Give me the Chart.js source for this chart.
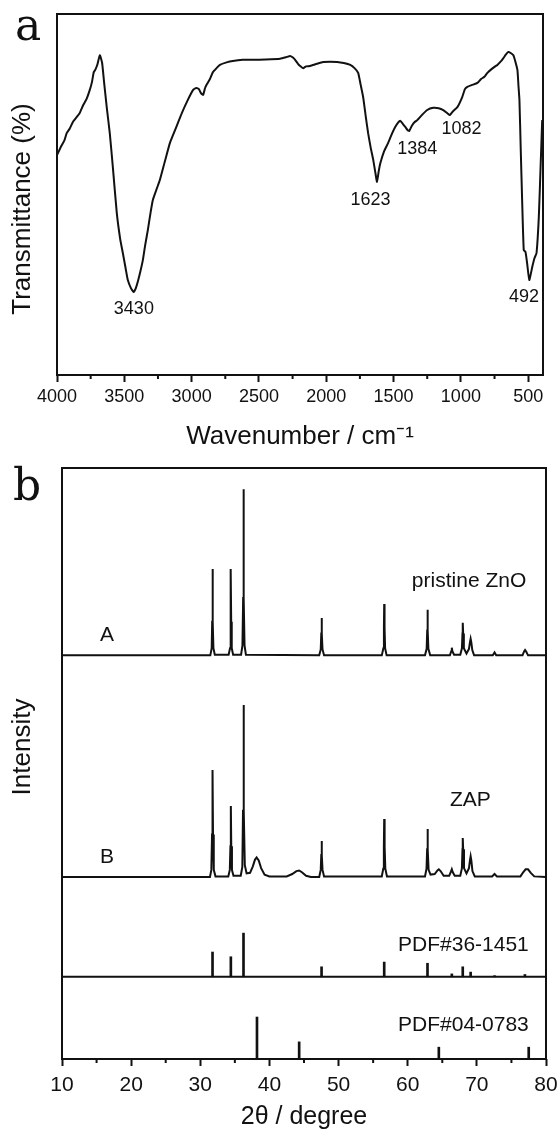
<!DOCTYPE html>
<html lang="en">
<head>
<meta charset="UTF-8" />
<title>FTIR and XRD</title>
<script src="https://cdn.jsdelivr.net/npm/chart.js"></script>
<style>
  body { margin: 0; background: #fff; }
  .fig { position: relative; width: 559px; height: 1132px; }
  canvas { position: absolute; left: 0; }
  #ftirChart { top: 0; }
  #xrdChart { top: 460px; }
</style>
</head>
<body>
<div class="fig">
  <canvas id="ftirChart" width="559" height="460"></canvas>
  <canvas id="xrdChart" width="559" height="672"></canvas>
</div>

<script>
// ---- panel a : FTIR ----
const ftirWavenumber = [4000, 3970, 3945, 3928, 3905, 3880, 3855, 3831, 3805, 3780, 3757, 3740, 3727, 3715, 3700, 3682, 3665, 3650, 3630, 3608,
  3585, 3556, 3530, 3511, 3490, 3474, 3450, 3430, 3415, 3400, 3380, 3362, 3345, 3325, 3305, 3288, 3260, 3236, 3200, 3161,
  3117, 3072, 3028, 2990, 2965, 2946, 2931, 2915, 2900, 2886, 2864, 2842, 2815, 2790, 2740, 2694, 2620, 2545, 2450, 2343,
  2300, 2268, 2250, 2231, 2210, 2194, 2172, 2150, 2120, 2070, 2023, 1970, 1919, 1870, 1822, 1790, 1763, 1745, 1726, 1708,
  1689, 1670, 1651, 1635, 1623, 1610, 1598, 1570, 1540, 1510, 1488, 1465, 1450, 1430, 1413, 1395, 1384, 1365, 1345, 1324,
  1290, 1250, 1205, 1165, 1131, 1100, 1082, 1060, 1026, 990, 970, 952, 920, 877, 850, 825, 803, 770, 745, 729,
  700, 684, 665, 647, 630, 610, 595, 580, 572, 565, 555, 545, 533, 520, 508, 492, 470, 453, 438, 421, 408, 396];
const ftirTransmittance = [60.9, 63.3, 65.0, 67.0, 68.3, 70.2, 71.4, 72.6, 74.8, 76.5, 78.9, 81.2, 83.9, 84.6, 86.0, 88.6, 86.5, 81.0, 74.0, 67.0,
  57.5, 44.9, 37.5, 33.8, 29.5, 26.3, 24.0, 23.0, 24.0, 25.8, 28.8, 31.9, 36.0, 40.2, 45.0, 48.5, 51.5, 54.0, 59.0, 64.3,
  68.4, 72.6, 76.2, 78.9, 79.5, 79.2, 78.1, 77.6, 79.5, 80.6, 82.0, 83.9, 85.0, 85.9, 86.6, 87.0, 87.3, 87.3, 87.4, 87.6,
  88.0, 88.4, 88.0, 87.3, 86.2, 85.6, 85.0, 85.5, 85.6, 86.2, 86.7, 86.8, 86.7, 86.4, 85.9, 85.0, 83.7, 80.5, 77.0, 72.0,
  67.0, 63.0, 59.6, 56.0, 53.5, 56.5, 58.7, 62.0, 64.3, 67.0, 68.7, 70.0, 70.4, 69.5, 68.7, 67.8, 67.6, 69.0, 70.0, 70.6,
  72.0, 73.4, 74.0, 73.9, 73.4, 72.5, 72.0, 73.0, 74.2, 77.0, 79.2, 79.8, 80.3, 80.9, 82.0, 82.6, 83.7, 84.8, 85.5, 85.9,
  87.0, 87.8, 88.8, 89.5, 89.2, 88.6, 86.8, 84.5, 80.0, 76.2, 62.0, 48.5, 34.6, 34.1, 31.0, 26.3, 29.9, 32.4, 33.8, 43.8, 57.6, 70.6];
const ftirTicks = [500, 1000, 1500, 2000, 2500, 3000, 3500, 4000];
const ftirMinorTicks = [750, 1250, 1750, 2250, 2750, 3250, 3750];
const ftirLabelText = ['3430', '1623', '1384', '1082', '492'];
const ftirLabelX = [3429, 1671, 1324, 996, 531];
const ftirLabelY = [18.4, 48.5, 62.5, 68.2, 21.5];

// ---- panel b : XRD ----
const xrdAngleA = [10, 31.45, 31.65, 31.72, 31.77, 31.82, 31.9, 32.1,
  34.1, 34.3, 34.37, 34.42, 34.47, 34.55, 34.75,
  35.9, 36.1, 36.2, 36.25, 36.3, 36.4, 36.6,
  47.2, 47.42, 47.5, 47.54, 47.6, 47.68, 47.9,
  56.25, 56.48, 56.56, 56.6, 56.65, 56.73, 56.95,
  62.5, 62.74, 62.82, 62.86, 62.91, 62.99, 63.25,
  66.1, 66.3, 66.38, 66.46, 66.7,
  67.6, 67.84, 67.92, 67.96, 68.02, 68.12, 68.5, 68.86, 69.0, 69.1, 69.2, 69.34, 69.6,
  72.3, 72.56, 72.8,
  76.6, 76.85, 76.97, 77.15, 77.4, 80];
const xrdIntensityA = [68.3, 68.3, 69.5, 74, 82.9, 74, 69.5, 68.4,
  68.4, 69.5, 74, 82.9, 74, 69.5, 68.4,
  68.4, 70, 78, 96.4, 78, 70, 68.4,
  68.3, 69.3, 72, 74.6, 72, 69.3, 68.3,
  68.3, 69.5, 73, 77.0, 73, 69.5, 68.3,
  68.3, 69.4, 72.5, 76.0, 72.5, 69.4, 68.3,
  68.3, 69.0, 69.6, 69.0, 68.4,
  68.4, 69.5, 72, 73.8, 72, 69.5, 68.6, 69.4, 70.5, 71.1, 70.5, 69.2, 68.3,
  68.3, 68.8, 68.3,
  68.3, 69.0, 69.2, 68.9, 68.3, 68.3];

const xrdAngleB = [10, 31.4, 31.6, 31.7, 31.77, 31.84, 31.95, 32.2,
  34.05, 34.27, 34.36, 34.42, 34.48, 34.58, 34.8,
  35.85, 36.08, 36.18, 36.25, 36.32, 36.44, 36.7,
  37.2, 37.6, 37.9, 38.15, 38.45, 38.8, 39.3, 40,
  42.5, 43.3, 43.9, 44.3, 44.7, 45.3, 46,
  47.2, 47.42, 47.5, 47.54, 47.6, 47.68, 47.9,
  56.25, 56.46, 56.55, 56.6, 56.66, 56.76, 57,
  62.5, 62.72, 62.81, 62.86, 62.92, 63.02, 63.3,
  63.9, 64.3, 64.5, 64.75, 65.2, 66.0, 66.25, 66.38, 66.52, 66.8,
  67.6, 67.84, 67.92, 67.96, 68.02, 68.14, 68.5, 68.86, 69.0, 69.1, 69.2, 69.36, 69.7,
  72.2, 72.56, 72.9,
  76.3, 76.7, 77.05, 77.4, 77.8, 78.3, 80];
const xrdIntensityB = [30.8, 30.8, 32, 38, 48.9, 38, 32, 30.9,
  30.9, 32, 36, 42.8, 36, 32, 31.0,
  31.0, 32.5, 42, 59.9, 42, 32.8, 31.4,
  31.5, 32.6, 33.7, 34.1, 33.6, 32.3, 31.2, 30.9,
  30.9, 31.3, 31.8, 31.9, 31.6, 31.0, 30.8,
  30.8, 32, 34.5, 36.9, 34.5, 32, 30.9,
  30.9, 32.2, 36, 40.6, 36, 32.2, 30.9,
  30.9, 32.2, 35.5, 38.9, 35.5, 32, 31.2,
  31.3, 31.9, 32.1, 31.8, 31.0, 31.0, 31.7, 32.1, 31.6, 31.0,
  31.0, 32.3, 35.5, 37.4, 35.5, 32.3, 31.4, 32.3, 33.6, 34.3, 33.6, 31.8, 30.9,
  30.9, 31.3, 30.9,
  30.9, 31.6, 32.1, 32.1, 31.5, 30.9, 30.8];

const pdf36Base = 13.9;
const pdf36Angle = [31.77, 34.42, 36.25, 47.54, 56.6, 62.86, 66.38, 67.96, 69.1, 72.56, 76.95];
const pdf36Top = [18.1, 17.3, 21.3, 15.6, 16.4, 16.2, 14.4, 15.6, 14.7, 14.1, 14.3];
const pdf04Base = 0;
const pdf04Angle = [38.2, 44.3, 64.5, 77.5];
const pdf04Top = [7.1, 2.9, 2.0, 2.0];

const xrdMinorTicks = [15, 25, 35, 45, 55, 65, 75];
const xrdLabelText = ['A', 'pristine ZnO', 'B', 'ZAP', 'PDF#36-1451', 'PDF#04-0783'];
const xrdLabelX = [16.5, 60.6, 16.5, 66.1, 58.6, 58.6];
const xrdLabelY = [71.7, 80.9, 34.2, 43.8, 19.3, 5.75];
const xrdLabelAlign = ['center', 'left', 'center', 'left', 'left', 'left'];

Chart.defaults.font.family = '"Liberation Sans", Arial, sans-serif';
Chart.defaults.color = '#111';

const INK = '#111';

// frame, minor ticks, annotations, y title and panel letter
function extras(cfg) {
  return {
    id: 'extras',
    afterDraw(chart) {
      const ctx = chart.ctx;
      const a = chart.chartArea;
      const x = chart.scales.x, y = chart.scales.y;
      ctx.save();
      ctx.strokeStyle = INK;
      ctx.lineWidth = 2;
      ctx.strokeRect(a.left, a.top, a.right - a.left, a.bottom - a.top);
      ctx.beginPath();
      cfg.minor.forEach(v => {
        const px = x.getPixelForValue(v);
        ctx.moveTo(px, a.bottom);
        ctx.lineTo(px, a.bottom + 4);
      });
      ctx.stroke();
      ctx.fillStyle = INK;
      ctx.font = cfg.font;
      ctx.textBaseline = 'middle';
      cfg.text.forEach((t, i) => {
        ctx.textAlign = cfg.align ? cfg.align[i] : 'center';
        ctx.fillText(t, x.getPixelForValue(cfg.lx[i]), y.getPixelForValue(cfg.ly[i]));
      });
      // y axis title
      ctx.save();
      ctx.translate(23, cfg.yTitleAt);
      ctx.rotate(-Math.PI / 2);
      ctx.font = '26px "Liberation Sans", Arial, sans-serif';
      ctx.textAlign = 'center';
      ctx.fillText(cfg.yTitle, 0, 0);
      ctx.restore();
      ctx.font = '44px "DejaVu Serif", serif';
      ctx.textAlign = 'left';
      ctx.textBaseline = 'alphabetic';
      ctx.fillText(cfg.letter, cfg.letterX, 40);
      ctx.restore();
    }
  };
}

new Chart(document.getElementById('ftirChart'), {
  type: 'line',
  data: {
    datasets: [{
      data: ftirWavenumber.map((w, i) => ({ x: w, y: ftirTransmittance[i] })),
      borderColor: INK,
      borderWidth: 2,
      pointRadius: 0,
      tension: 0.15
    }]
  },
  options: {
    responsive: false,
    animation: false,
    layout: { padding: { top: 14, right: 16, left: 0, bottom: 0 } },
    plugins: { legend: { display: false }, tooltip: { enabled: false } },
    scales: {
      x: {
        type: 'linear',
        reverse: true,
        offset: false,
        min: 390,
        max: 4000,
        afterBuildTicks: s => { s.ticks = ftirTicks.map(v => ({ value: v })); },
        afterFit: s => { s.height = 85; s.paddingLeft = 0; s.paddingRight = 0; },
        ticks: { font: { size: 18 }, padding: 4, maxRotation: 0, callback: v => String(v) },
        grid: { offset: false, drawOnChartArea: false, drawTicks: true, tickLength: 7, tickWidth: 2, tickColor: INK },
        border: { display: false },
        title: { display: true, text: 'Wavenumber / cm\u207B\u00B9', font: { size: 26 }, padding: { top: 0, bottom: 8 } }
      },
      y: {
        min: 0,
        max: 100,
        afterFit: s => { s.width = 57; },
        ticks: { display: false },
        grid: { display: false },
        border: { display: false }
      }
    }
  },
  plugins: [extras({
    minor: ftirMinorTicks, text: ftirLabelText, lx: ftirLabelX, ly: ftirLabelY,
    font: '18px "Liberation Sans", Arial, sans-serif',
    yTitle: 'Transmittance (%)', yTitleAt: 209, letter: 'a', letterX: 15
  })]
});

new Chart(document.getElementById('xrdChart'), {
  type: 'line',
  data: {
    datasets: [
      {
        data: xrdAngleA.map((t, i) => ({ x: t, y: xrdIntensityA[i] })),
        borderColor: INK, borderWidth: 2, pointRadius: 0, tension: 0
      },
      {
        data: xrdAngleB.map((t, i) => ({ x: t, y: xrdIntensityB[i] })),
        borderColor: INK, borderWidth: 2, pointRadius: 0, tension: 0
      },
      {
        data: [{ x: 10, y: pdf36Base }, { x: 80, y: pdf36Base }],
        borderColor: INK, borderWidth: 2, pointRadius: 0
      },
      {
        type: 'bar',
        data: pdf36Angle.map((t, i) => ({ x: t, y: [pdf36Base, pdf36Top[i]] })),
        backgroundColor: INK, barThickness: 2, grouped: false
      },
      {
        type: 'bar',
        data: pdf04Angle.map((t, i) => ({ x: t, y: [pdf04Base, pdf04Top[i]] })),
        backgroundColor: INK, barThickness: 2, grouped: false
      }
    ]
  },
  options: {
    responsive: false,
    animation: false,
    layout: { padding: { top: 8, right: 13, left: 0, bottom: 0 } },
    plugins: { legend: { display: false }, tooltip: { enabled: false } },
    scales: {
      x: {
        type: 'linear',
        offset: false,
        min: 10,
        max: 80,
        afterFit: s => { s.height = 73; s.paddingLeft = 0; s.paddingRight = 0; },
        ticks: { stepSize: 10, font: { size: 21 }, padding: 7, maxRotation: 0 },
        grid: { offset: false, drawOnChartArea: false, drawTicks: true, tickLength: 7, tickWidth: 2, tickColor: INK },
        border: { display: false },
        title: { display: true, text: '2\u03B8 / degree', font: { size: 25 }, padding: { top: 0, bottom: 0 } }
      },
      y: {
        min: 0,
        max: 100,
        afterFit: s => { s.width = 62; },
        ticks: { display: false },
        grid: { display: false },
        border: { display: false }
      }
    }
  },
  plugins: [extras({
    minor: xrdMinorTicks, text: xrdLabelText, lx: xrdLabelX, ly: xrdLabelY, align: xrdLabelAlign,
    font: '21px "Liberation Sans", Arial, sans-serif',
    yTitle: 'Intensity', yTitleAt: 287, letter: 'b', letterX: 13
  })]
});
</script>
</body>
</html>
